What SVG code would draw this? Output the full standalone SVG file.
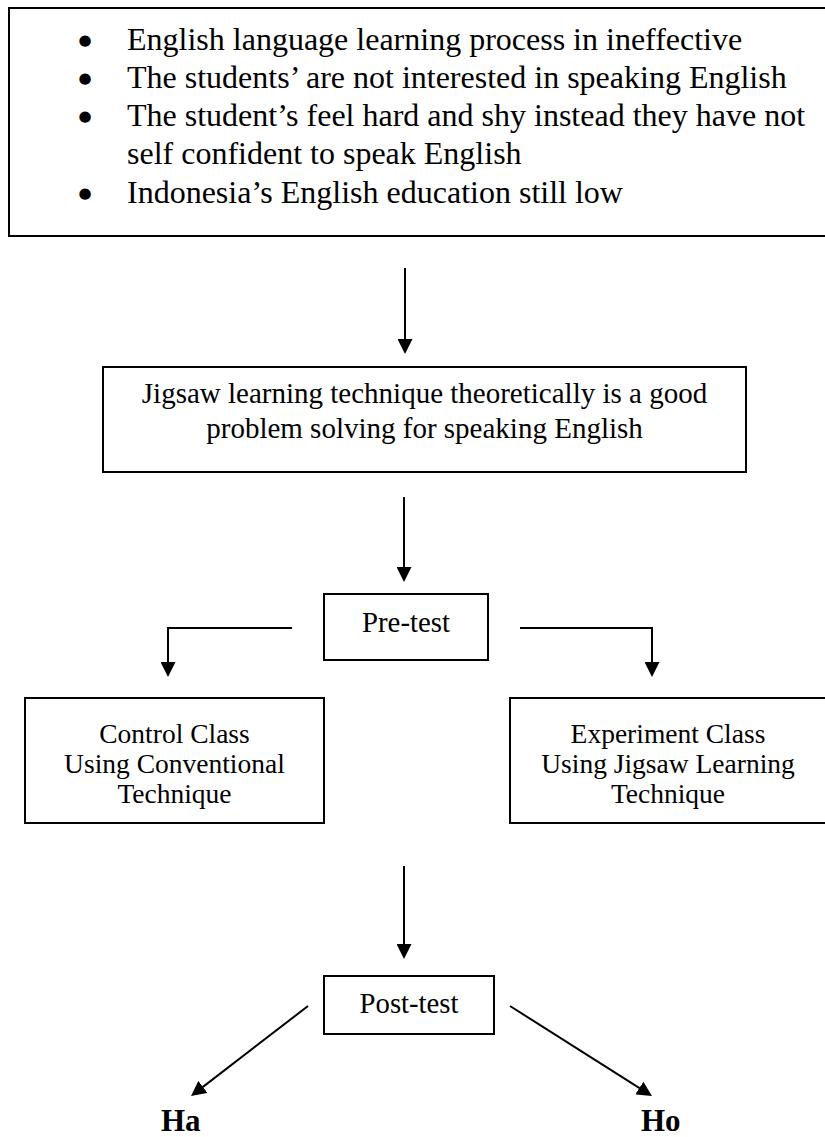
<svg xmlns="http://www.w3.org/2000/svg" width="825" height="1137" viewBox="0 0 825 1137">
  <style>
    .box { fill: #ffffff; stroke: #000000; stroke-width: 2; }
    .t { font-family: "Liberation Serif", "Times New Roman", serif; fill: #000000; }
    .c { text-anchor: middle; }
    .bul { font-family: "DejaVu Sans", sans-serif; font-size: 15px; text-anchor: middle; fill: #000000; }
    .conn { fill: none; stroke: #000000; stroke-width: 2; }
    .hyp { font-family: "Liberation Serif", "Times New Roman", serif; font-weight: bold; font-size: 31px; fill: #000000; }
  </style>
  <defs>
    <marker id="arr" viewBox="0 0 15 15" refX="11" refY="7.5" markerWidth="15" markerHeight="15" markerUnits="userSpaceOnUse" orient="auto">
      <path d="M0,0 L15,7.5 L0,15 z" fill="#000000"/>
    </marker>
  </defs>
  <rect width="825" height="1137" fill="#ffffff"/>

  <g id="problems">
    <rect class="box" x="9" y="8" width="830" height="228"/>
    <text class="bul" x="85" y="45">●</text>
    <text class="bul" x="85" y="83">●</text>
    <text class="bul" x="85" y="121">●</text>
    <text class="bul" x="85" y="198">●</text>
    <g class="t" font-size="32">
      <text x="127" y="50">English language learning process in ineffective</text>
      <text x="127" y="88">The students’ are not interested in speaking English</text>
      <text x="127" y="126">The student’s feel hard and shy instead they have not</text>
      <text x="127" y="164">self confident to speak English</text>
      <text x="127" y="203">Indonesia’s English education still low</text>
    </g>
  </g>

  <g id="jigsaw">
    <rect class="box" x="103" y="367" width="643" height="105"/>
    <g class="t c" font-size="29">
      <text x="424.5" y="403">Jigsaw learning technique theoretically is a good</text>
      <text x="424.5" y="438">problem solving for speaking English</text>
    </g>
  </g>

  <g id="pretest">
    <rect class="box" x="324" y="594" width="164" height="66"/>
    <text class="t c" font-size="28.8" x="406" y="632">Pre-test</text>
  </g>

  <g id="control">
    <rect class="box" x="25" y="698" width="299" height="125"/>
    <g class="t c" font-size="27.5">
      <text x="174.5" y="743">Control Class</text>
      <text x="174.5" y="773">Using Conventional</text>
      <text x="174.5" y="803">Technique</text>
    </g>
  </g>

  <g id="experiment">
    <rect class="box" x="510" y="698" width="317" height="125"/>
    <g class="t c" font-size="27.5">
      <text x="668" y="743">Experiment Class</text>
      <text x="668" y="773">Using Jigsaw Learning</text>
      <text x="668" y="803">Technique</text>
    </g>
  </g>

  <g id="posttest">
    <rect class="box" x="324" y="976" width="170" height="58"/>
    <text class="t c" font-size="28.7" x="409" y="1013">Post-test</text>
  </g>

  <g id="ha">
    <text class="hyp" x="161" y="1131">Ha</text>
  </g>
  <g id="ho">
    <text class="hyp" x="641" y="1131">Ho</text>
  </g>

  <g id="connectors">
    <path class="conn" d="M405,268 V350" marker-end="url(#arr)"/>
    <path class="conn" d="M404,497 V578" marker-end="url(#arr)"/>
    <path class="conn" d="M292,628 H168 V673" marker-end="url(#arr)"/>
    <path class="conn" d="M520,628 H652 V673" marker-end="url(#arr)"/>
    <path class="conn" d="M404,866 V955" marker-end="url(#arr)"/>
    <path class="conn" d="M308,1006 L194.2,1093.6" marker-end="url(#arr)"/>
    <path class="conn" d="M510,1006 L648.6,1093.9" marker-end="url(#arr)"/>
  </g>
</svg>
